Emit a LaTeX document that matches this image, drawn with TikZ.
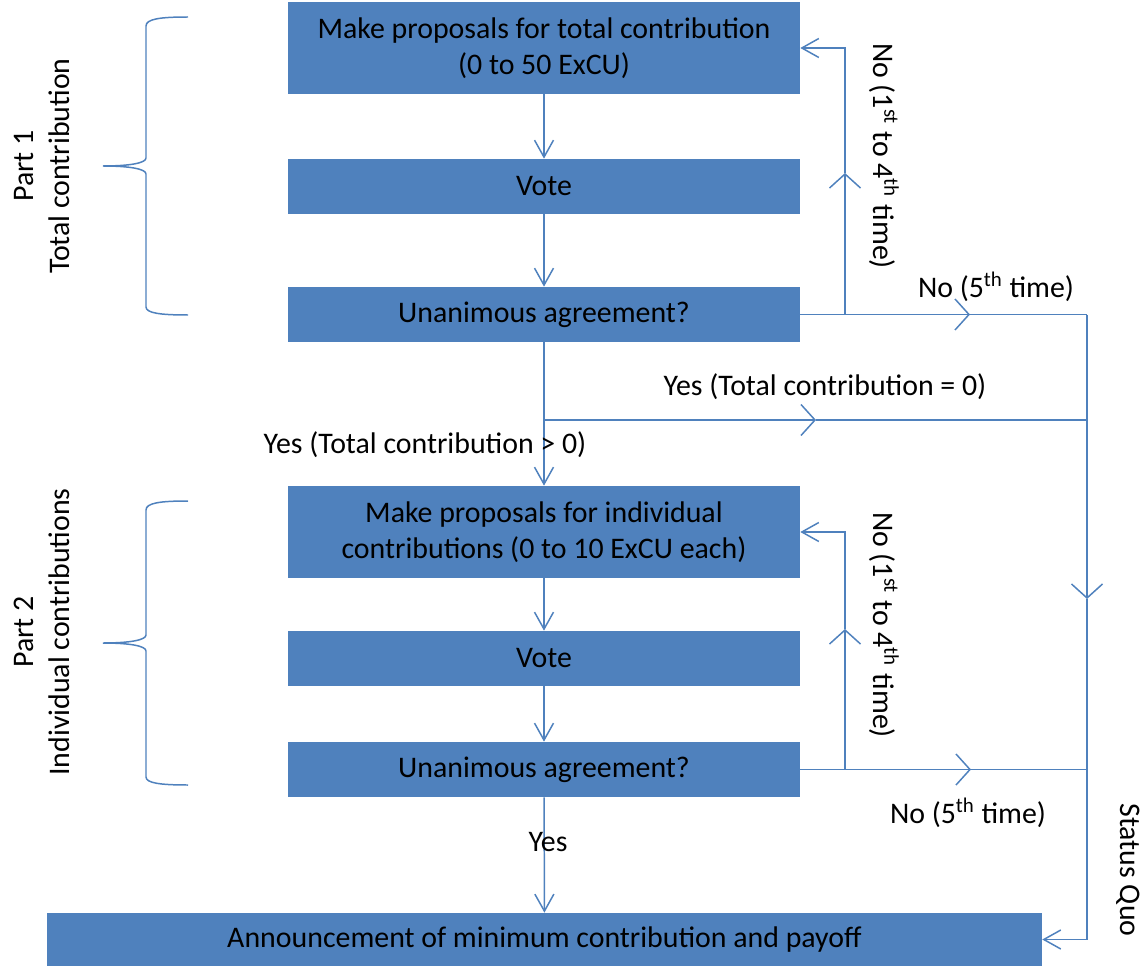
\documentclass[tikz,border=0pt]{standalone}
\usepackage{fontspec}
\setmainfont{Carlito}
\usepackage{xcolor}
\usetikzlibrary{arrows.meta}
\definecolor{boxblue}{RGB}{79,129,189}

\begin{document}
\begin{tikzpicture}[x=0.02cm, y=-0.02cm,
    font=\fontsize{17}{20.4}\selectfont,
    box/.style={shape=rectangle, fill=boxblue, inner sep=0pt, minimum width=10.24cm, minimum height=1.1cm, align=center},
    line/.style={draw=boxblue, line width=0.85pt},
    flow/.style={line, -{Straight Barb[length=0.34cm,width=0.38cm]}},
    midarr/.style={line, -{Straight Barb[length=0.28cm,width=0.62cm]}}]
    \useasboundingbox (0,0) rectangle (1146,966);

    % boxes
    \node[box, minimum height=1.84cm] (prop1) at (544,48) {Make proposals for total contribution\\(0 to 50 ExCU)};
    \node[box] (vote1) at (544,186.5) {Vote};
    \node[box] (agree1) at (544,314.5) {Unanimous agreement?};
    \node[box, minimum height=1.84cm] (prop2) at (544,532) {Make proposals for individual\\contributions (0 to 10 ExCU each)};
    \node[box] (vote2) at (544,658.5) {Vote};
    \node[box] (agree2) at (544,769.5) {Unanimous agreement?};
    \node[box, minimum width=19.9cm, minimum height=1.06cm] (announce) at (544.5,939.5) {Announcement of minimum contribution and payoff};

    % turning points
    \coordinate (back1) at (845,314.5);
    \coordinate (up1) at (845,173);
    \coordinate (out1) at (970,314.5);
    \coordinate (sq) at (1087,314.5);
    \coordinate (down) at (1087,599);
    \coordinate (split) at (544,420);
    \coordinate (yes0) at (816,420);
    \coordinate (join0) at (1087,420);
    \coordinate (back2) at (845,769.5);
    \coordinate (up2) at (845,629);
    \coordinate (out2) at (971,769.5);
    \coordinate (join2) at (1087,769.5);

    \draw[flow] (prop1) -- (vote1);
    \draw[flow] (vote1) -- (agree1);
    \draw[line] (agree1) -- (split);
    \draw[flow] (split) -- (prop2);
    \draw[flow] (prop2) -- (vote2);
    \draw[flow] (vote2) -- (agree2);
    \draw[flow] (agree2) -- (announce);

    \draw[line] (agree1.east) -- (back1);
    \draw[midarr] (back1) -- (up1);
    \draw[flow] (up1) |- (prop1.east);
    \draw[midarr] (back1) -- (out1);
    \draw[line] (out1) -- (sq);
    \draw[midarr] (sq) -- (down);
    \draw[flow] (down) |- (announce.east);

    \draw[midarr] (split) -- (yes0);
    \draw[line] (yes0) -- (join0);

    \draw[line] (agree2.east) -- (back2);
    \draw[midarr] (back2) -- (up2);
    \draw[flow] (up2) |- (prop2.east);
    \draw[midarr] (back2) -- (out2);
    \draw[line] (out2) -- (join2);

    % labels
    \node[rotate=-90] (no14a) at (884,156) {No (1\textsuperscript{st} to 4\textsuperscript{th} time)};
    \node (no5a) at (996,287) {No (5\textsuperscript{th} time)};
    \node (yeszero) at (825,387) {Yes (Total contribution = 0)};
    \node (yespos) at (425,445) {Yes (Total contribution > 0)};
    \node[rotate=-90] (no14b) at (884,625) {No (1\textsuperscript{st} to 4\textsuperscript{th} time)};
    \node (no5b) at (968,813) {No (5\textsuperscript{th} time)};
    \node (yes) at (548,842) {Yes};
    \node[rotate=-90] (statusquo) at (1128,870) {Status Quo};
    \node[rotate=90, align=center] (part1) at (42,166) {Part 1\\Total contribution};
    \node[rotate=90, align=center] (part2) at (42,632) {Part 2\\Individual contributions};

    % braces
    \draw[line] (188,17) .. controls (160,17) and (146,19) .. (146,26) -- (146,158)
        .. controls (146,163) and (130,166) .. (103,166) .. controls (130,166) and (146,169) .. (146,174)
        -- (146,307) .. controls (146,313) and (160,315) .. (188,315);
    \draw[line] (188,501) .. controls (160,501) and (146,503) .. (146,510) -- (146,635)
        .. controls (146,640) and (130,643) .. (103,643) .. controls (130,643) and (146,646) .. (146,651)
        -- (146,777) .. controls (146,783) and (160,785) .. (188,785);
\end{tikzpicture}
\end{document}
